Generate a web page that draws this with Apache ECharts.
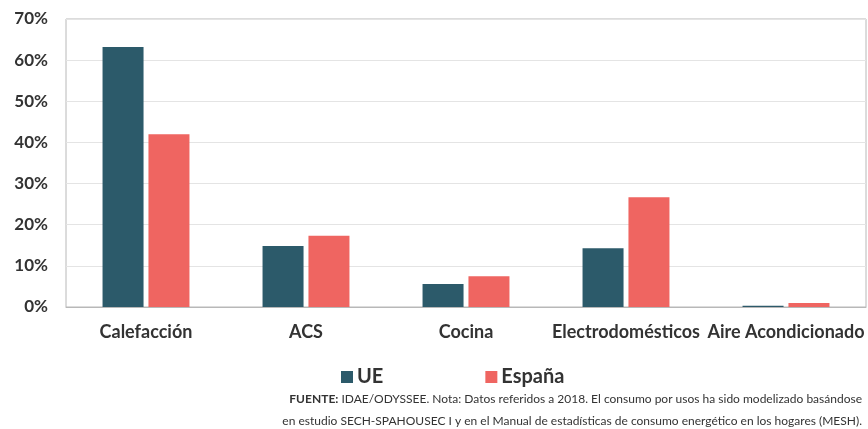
<!DOCTYPE html>
<html>
<head>
<meta charset="utf-8">
<script src="https://cdn.jsdelivr.net/npm/echarts@6/dist/echarts.min.js"></script>
<style>
  html, body { margin: 0; padding: 0; background: #fff; }
  #chart { width: 868px; height: 429px; }
</style>
</head>
<body>
<div id="chart"></div>
<script>
// Distribución del consumo energético por usos en los hogares (%)
const categories = ['Calefacción', 'ACS', 'Cocina', 'Electrodomésticos', 'Aire Acondicionado'];
const ueValues = [63.2, 14.8, 5.6, 14.3, 0.3];
const espanaValues = [42.0, 17.3, 7.5, 26.7, 1.0];
const seriesNames = ['UE', 'España'];
const yTicks = { min: 0, max: 70, interval: 10 };
const noteLine1 = ['FUENTE:', ' IDAE/ODYSSEE. Nota: Datos referidos a 2018. El consumo por usos ha sido modelizado basándose'];
const noteLine2 = 'en estudio SECH-SPAHOUSEC I y en el Manual de estadísticas de consumo energético en los hogares (MESH).';

const FONT = 'Lato, "Open Sans", sans-serif';
const chart = echarts.init(document.getElementById('chart'));

chart.setOption({
  animation: false,
  color: ['#2c5a6a', '#ef6561'],
  grid: {
    left: 66, right: 2, top: 19, bottom: 122,
    show: true, borderColor: '#b8b8b8', borderWidth: 1
  },
  legend: {
    data: seriesNames,
    left: 336, top: 362,
    itemWidth: 12, itemHeight: 12, itemGap: 102,
    icon: 'rect',
    textStyle: { fontFamily: FONT, fontWeight: 'bold', fontSize: 20, color: '#333', padding: [0, 0, 0, -1] }
  },
  xAxis: {
    type: 'category',
    data: categories,
    axisLine: { show: true, lineStyle: { color: '#b8b8b8' } },
    axisTick: { show: false },
    axisLabel: { fontFamily: FONT, fontWeight: 'bold', fontSize: 18, color: '#333', margin: 16, interval: 0 }
  },
  yAxis: {
    type: 'value',
    min: yTicks.min, max: yTicks.max, interval: yTicks.interval,
    axisLine: { show: false },
    axisTick: { show: false },
    splitLine: { lineStyle: { color: '#e4e4e4' } },
    axisLabel: { fontFamily: FONT, fontWeight: 'bold', fontSize: 17, color: '#333', margin: 18, formatter: '{value}%' }
  },
  series: [
    { name: seriesNames[0], type: 'bar', data: ueValues, barWidth: 41, barGap: '12%' },
    { name: seriesNames[1], type: 'bar', data: espanaValues, barWidth: 41, barGap: '12%' }
  ],
  graphic: [
    {
      type: 'text', right: 6, top: 393,
      style: {
        text: '{b|' + noteLine1[0] + '}{n|' + noteLine1[1] + '}',
        align: 'right',
        rich: {
          b: { fontFamily: FONT, fontWeight: 'bold', fontSize: 12, fill: '#333' },
          n: { fontFamily: FONT, fontSize: 12, fill: '#333' }
        }
      }
    },
    {
      type: 'text', right: 6, top: 415,
      style: { text: noteLine2, fontFamily: FONT, fontSize: 12, fill: '#333', align: 'right' }
    }
  ]
});
</script>
</body>
</html>
